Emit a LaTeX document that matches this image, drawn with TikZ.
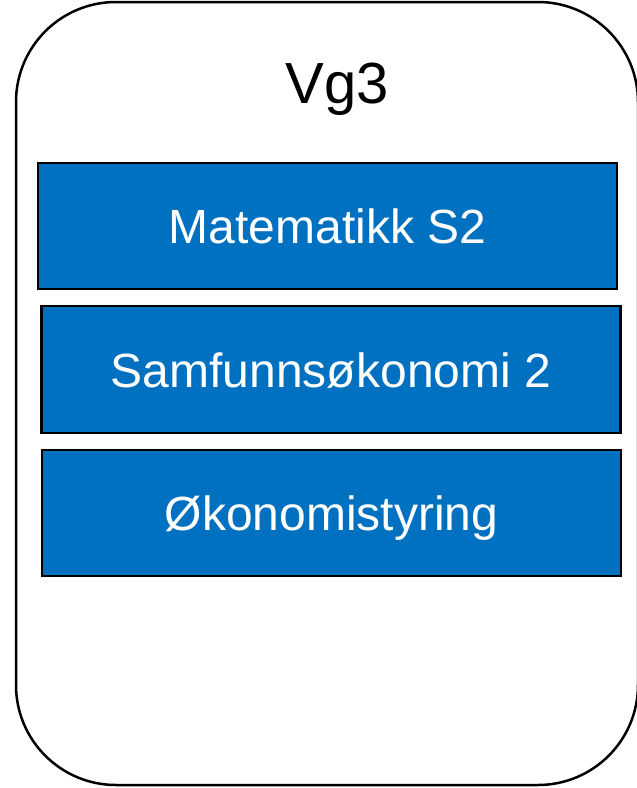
\documentclass[tikz,border=0pt]{standalone}
\usepackage{fontspec}
\setmainfont{Liberation Sans}
\usepackage{xcolor}
\usetikzlibrary{positioning}

\definecolor{fagblue}{HTML}{0070C0}

\tikzset{
	fagbox/.style={draw=black, line width=2.5pt, fill=fagblue, text=white, inner sep=0pt,
		minimum width=579pt, minimum height=126pt, text height=35pt, text depth=0pt,
		font=\fontsize{48}{58}\selectfont},
	trinn/.style={draw=black, line width=2.5pt, rounded corners=100pt}
}

\begin{document}
\begin{tikzpicture}[x=1pt, y=-1pt]
	\useasboundingbox (0,0) rectangle (637,788);
	% ramme for trinnet
	\draw[trinn] (16,2) rectangle (638,785);
	\node[anchor=base, inner sep=0, font=\fontsize{58}{70}\selectfont] (vg) at (337,103) {Vg3};
	% fagene
	\node[fagbox] (mat) at (327.5,226) {Matematikk S2};
	\node[fagbox, minimum height=127pt] (sam) at (331,369.5) {Samfunnsøkonomi 2};
	\node[fagbox] (oko) at (331.5,513) {Økonomistyring};
\end{tikzpicture}
\end{document}
